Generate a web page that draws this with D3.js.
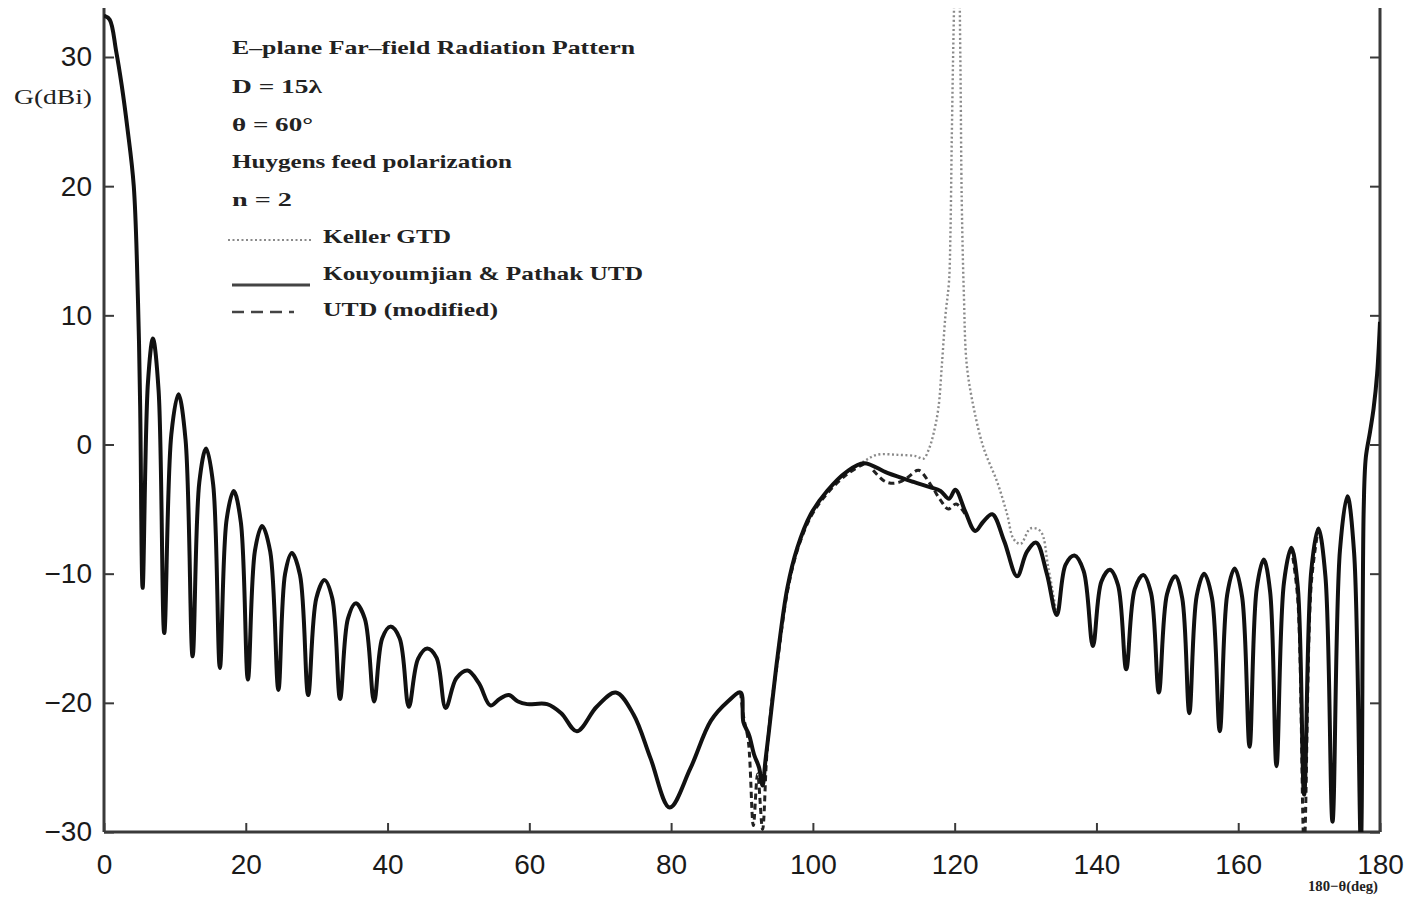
<!DOCTYPE html>
<html>
<head>
<meta charset="utf-8">
<script src="https://cdn.jsdelivr.net/npm/d3@7"></script>
<style>
    body { margin: 0; background: #fff; }
    svg { display: block; }
</style>
</head>
<body>
<div class="curr-graff"></div>
<script>
// [angle 180-theta (deg), gain (dBi)]
const utdPoints = [
    [0, 33.2], [0.8, 32.9], [1.7, 30.5], [2.5, 27.8], [3.3, 24.5], [4.2, 20.0], [4.8, 11.0], [5.1, 3.0], [5.45, -11.1],
    [6.2, 4.8], [6.9, 8.2], [7.7, 4.2], [8.5, -14.6],
    [9.5, 0.8], [10.5, 3.9], [11.5, 0.4], [12.5, -16.4],
    [13.45, -2.9], [14.4, -0.3], [15.4, -3.1], [16.35, -17.3],
    [17.3, -5.8], [18.3, -3.6], [19.3, -6.0], [20.3, -18.2],
    [21.3, -8.2], [22.3, -6.3], [23.45, -8.3], [24.6, -19.0],
    [25.55, -10.0], [26.5, -8.4], [27.65, -10.1], [28.8, -19.4],
    [29.95, -11.9], [31.1, -10.5], [32.2, -11.9], [33.3, -19.7],
    [34.4, -13.5], [35.5, -12.3], [36.8, -13.5], [38.1, -19.9],
    [39.25, -15.0], [40.4, -14.1], [41.7, -15.0], [43.0, -20.3],
    [44.3, -16.6], [45.6, -15.8], [46.9, -16.5], [48.2, -20.4],
    [49.7, -18.1], [51.3, -17.5], [52.9, -18.5], [54.5, -20.2],
    [55.8, -19.7], [57.1, -19.4], [58.4, -19.9], [59.7, -20.1], [62.5, -20.1], [64.5, -20.8], [66.7, -22.2],
    [69.5, -20.3], [72.2, -19.2], [74.7, -20.9], [77.1, -24.3], [79.8, -28.1], [82.7, -25.1], [85.6, -21.4],
    [88.0, -19.9], [89.8, -19.2],
    [90.2, -21.5], [91.0, -22.5], [91.7, -24.0], [92.4, -25.0], [92.9, -26.4], [93.3, -24.5], [93.8, -22.2],
    [95.0, -16.5], [96.4, -11.1], [97.8, -8.0], [99.7, -5.4], [102.0, -3.6], [104.8, -2.1], [107.2, -1.45],
    [110.5, -2.2], [114.2, -2.9], [116.5, -3.3], [118.0, -3.6], [119.2, -4.2], [120.1, -3.5],
    [121.5, -5.2], [122.9, -6.7], [124.0, -6.0], [125.3, -5.4], [127.0, -7.5], [128.8, -10.2],
    [130.2, -8.3], [131.5, -7.6], [133.0, -10.0], [134.4, -13.2],
    [135.65, -9.3], [136.9, -8.6], [138.2, -9.8], [139.5, -15.6],
    [140.7, -10.6], [141.9, -9.7], [143.05, -10.9], [144.2, -17.4],
    [145.4, -11.2], [146.6, -10.1], [147.7, -11.5], [148.8, -19.2],
    [149.95, -11.6], [151.1, -10.2], [152.1, -11.9], [153.1, -20.8],
    [154.15, -11.7], [155.2, -10.0], [156.3, -11.9], [157.4, -22.2],
    [158.45, -11.6], [159.5, -9.6], [160.55, -11.8], [161.6, -23.4],
    [162.6, -11.2], [163.6, -8.9], [164.5, -11.4], [165.4, -24.9],
    [166.45, -10.7], [167.5, -8.0], [168.4, -11.0], [169.3, -27.1],
    [170.3, -9.8], [171.3, -6.5], [172.3, -10.2], [173.3, -29.2],
    [174.35, -8.2], [175.4, -4.0], [176.35, -8.4], [177.3, -31.0],
    [177.7, -5.0], [178.0, -1.0], [178.6, 1.0], [179.1, 2.8], [179.6, 5.5], [180.0, 9.5]
];

// Keller GTD, only where it leaves the UTD curve (elsewhere it lies under it)
const kellerPoints = [
    [104.8, -2.1], [107.2, -1.3], [109.0, -0.8], [112.0, -0.8], [114.5, -0.9], [115.6, -1.1], [116.4, -0.3],
    [117.0, 0.8], [117.7, 2.8], [118.2, 6.2], [118.7, 10.0], [119.2, 12.6], [119.4, 16.2], [119.6, 24.0],
    [119.9, 33.5], [120.4, 45.0], [120.8, 30.0], [121.0, 18.8], [121.3, 11.6], [121.7, 6.2], [122.7, 2.8],
    [124.1, -0.3], [126.0, -2.9], [127.4, -5.4], [128.3, -7.3], [129.3, -7.7], [130.7, -6.5], [132.1, -6.7],
    [133.2, -9.5], [134.4, -13.2]
];

// UTD (modified), pieces where it differs; null = gap
const modPoints = [
    [89.8, -19.2], [90.2, -21.0], [90.9, -23.0], [91.6, -29.5], [92.2, -25.5], [92.9, -29.8], [93.5, -24.0],
    [94.2, -20.0], [95.0, -16.8], [96.4, -11.4], [97.8, -8.2], [99.7, -5.6], [102.0, -3.8], [104.8, -2.3], [107.2, -1.5],
    null,
    [108.5, -2.0], [110.0, -2.8], [111.0, -3.0], [112.3, -2.9], [113.5, -2.5], [114.9, -2.0], [116.6, -3.1],
    [118.0, -4.3], [119.1, -5.0], [120.2, -4.6], [121.5, -5.4],
    null,
    [167.5, -8.0], [168.4, -12.0], [169.3, -31.0], [170.3, -10.8], [171.3, -6.5]
];

const xTicks = [0, 20, 40, 60, 80, 100, 120, 140, 160, 180];
const yTicks = [-30, -20, -10, 0, 10, 20, 30];

const headerLines = [
    "E–plane Far–field Radiation Pattern",
    "D = 15λ",
    "θ = 60°",
    "Huygens feed polarization",
    "n = 2"
];
const legendNames = ["Keller GTD", "Kouyoumjian & Pathak UTD", "UTD (modified)"];

function drawChart() {
    let width = 1412;
    let height = 908;

    let left = 104;
    let right = 1380;
    let top = 8;
    let bottom = 832;

    let svg = d3.select(".curr-graff")
        .append("svg")
        .attr("width", width)
        .attr("height", height);

    let xScale = d3.scaleLinear()
        .domain([0, 180])
        .range([left, right]);

    let yScale = d3.scaleLinear()
        .domain([-30, 30])
        .range([bottom, 57]);

    svg.append("clipPath")
        .attr("id", "plot-clip")
        .append("rect")
        .attr("x", left)
        .attr("y", top)
        .attr("width", right - left)
        .attr("height", bottom - top);

    // axes
    let axisColor = "#3a3a3a";

    let axisX = d3.axisBottom(xScale)
        .tickValues(xTicks)
        .tickSizeInner(-9)
        .tickSizeOuter(0)
        .tickPadding(22);

    let gx = svg.append("g")
        .attr("transform", `translate(0, ${bottom})`)
        .call(axisX);

    let axisY = d3.axisLeft(yScale)
        .tickValues(yTicks)
        .tickSizeInner(-10)
        .tickSizeOuter(0)
        .tickPadding(12)
        .tickFormat(d => d < 0 ? "−" + Math.abs(d) : d);

    let gy = svg.append("g")
        .attr("transform", `translate(${left}, 0)`)
        .call(axisY);

    let axisR = d3.axisRight(yScale)
        .tickValues(yTicks)
        .tickSizeInner(-10)
        .tickSizeOuter(0)
        .tickFormat("");

    let gr = svg.append("g")
        .attr("transform", `translate(${right}, 0)`)
        .call(axisR);

    [gx, gy, gr].forEach(g => {
        g.select(".domain").remove();
        g.selectAll(".tick line").attr("stroke", axisColor).attr("stroke-width", 2);
        g.selectAll("text")
            .attr("fill", "#1a1a1a")
            .style("font-family", "'Liberation Sans', Arial, sans-serif")
            .style("font-size", "28px");
    });

    svg.append("line")
        .attr("x1", left).attr("x2", left)
        .attr("y1", top).attr("y2", bottom)
        .attr("stroke", axisColor).attr("stroke-width", 3);
    svg.append("line")
        .attr("x1", right).attr("x2", right)
        .attr("y1", top).attr("y2", bottom)
        .attr("stroke", axisColor).attr("stroke-width", 3);
    svg.append("line")
        .attr("x1", left).attr("x2", right)
        .attr("y1", bottom).attr("y2", bottom)
        .attr("stroke", axisColor).attr("stroke-width", 3);

    // axis titles
    svg.append("text")
        .attr("x", 14)
        .attr("y", 104)
        .style("font-family", "'Liberation Serif', serif")
        .style("font-size", "20px")
        .attr("fill", "#222")
        .attr("textLength", 78)
        .attr("lengthAdjust", "spacingAndGlyphs")
        .text("G(dBi)");

    svg.append("text")
        .attr("x", 1308)
        .attr("y", 891)
        .style("font-family", "'Liberation Serif', serif")
        .style("font-size", "15px")
        .style("font-weight", "bold")
        .attr("fill", "#222")
        .attr("textLength", 70)
        .attr("lengthAdjust", "spacingAndGlyphs")
        .text("180−θ(deg)");

    // curves
    let line = d3.line()
        .defined(d => d != null)
        .x(d => xScale(d[0]))
        .y(d => yScale(d[1]))
        .curve(d3.curveCatmullRom.alpha(0.5));

    let plot = svg.append("g").attr("clip-path", "url(#plot-clip)");

    plot.append("path")
        .datum(kellerPoints)
        .attr("fill", "none")
        .attr("stroke", "#8a8a8a")
        .attr("stroke-width", 2.4)
        .attr("stroke-dasharray", "2,2.5")
        .attr("d", line);

    plot.append("path")
        .datum(modPoints)
        .attr("fill", "none")
        .attr("stroke", "#222")
        .attr("stroke-width", 3)
        .attr("stroke-dasharray", "6,4")
        .attr("d", line);

    plot.append("path")
        .datum(utdPoints)
        .attr("fill", "none")
        .attr("stroke", "#111")
        .attr("stroke-width", 4)
        .attr("stroke-linejoin", "round")
        .attr("d", line);

    // header text
    let textFont = "'Liberation Serif', 'Times New Roman', serif";
    let headerY = [54, 93, 131, 168, 206];
    let headerWidth = [403, 90, 81, 280, 60];

    headerLines.forEach((t, i) => {
        svg.append("text")
            .attr("x", 232)
            .attr("y", headerY[i])
            .style("font-family", textFont)
            .style("font-size", "19px")
            .style("font-weight", "bold")
            .attr("fill", "#222")
            .attr("textLength", headerWidth[i])
            .attr("lengthAdjust", "spacingAndGlyphs")
            .text(t);
    });

    // legend
    let legendY = [243, 280, 316];
    let legendWidth = [128, 320, 175];
    legendNames.forEach((t, i) => {
        svg.append("text")
            .attr("x", 323)
            .attr("y", legendY[i])
            .style("font-family", textFont)
            .style("font-size", "19px")
            .style("font-weight", "bold")
            .attr("fill", "#222")
            .attr("textLength", legendWidth[i])
            .attr("lengthAdjust", "spacingAndGlyphs")
            .text(t);
    });

    svg.append("line")
        .attr("x1", 228).attr("x2", 312)
        .attr("y1", 240).attr("y2", 240)
        .attr("stroke", "#8a8a8a").attr("stroke-width", 2)
        .attr("stroke-dasharray", "2,2.5");
    svg.append("line")
        .attr("x1", 232).attr("x2", 310)
        .attr("y1", 285).attr("y2", 285)
        .attr("stroke", "#444").attr("stroke-width", 3);
    svg.append("line")
        .attr("x1", 232).attr("x2", 294)
        .attr("y1", 312).attr("y2", 312)
        .attr("stroke", "#444").attr("stroke-width", 2.5)
        .attr("stroke-dasharray", "12,7");
}

drawChart();
</script>
</body>
</html>
